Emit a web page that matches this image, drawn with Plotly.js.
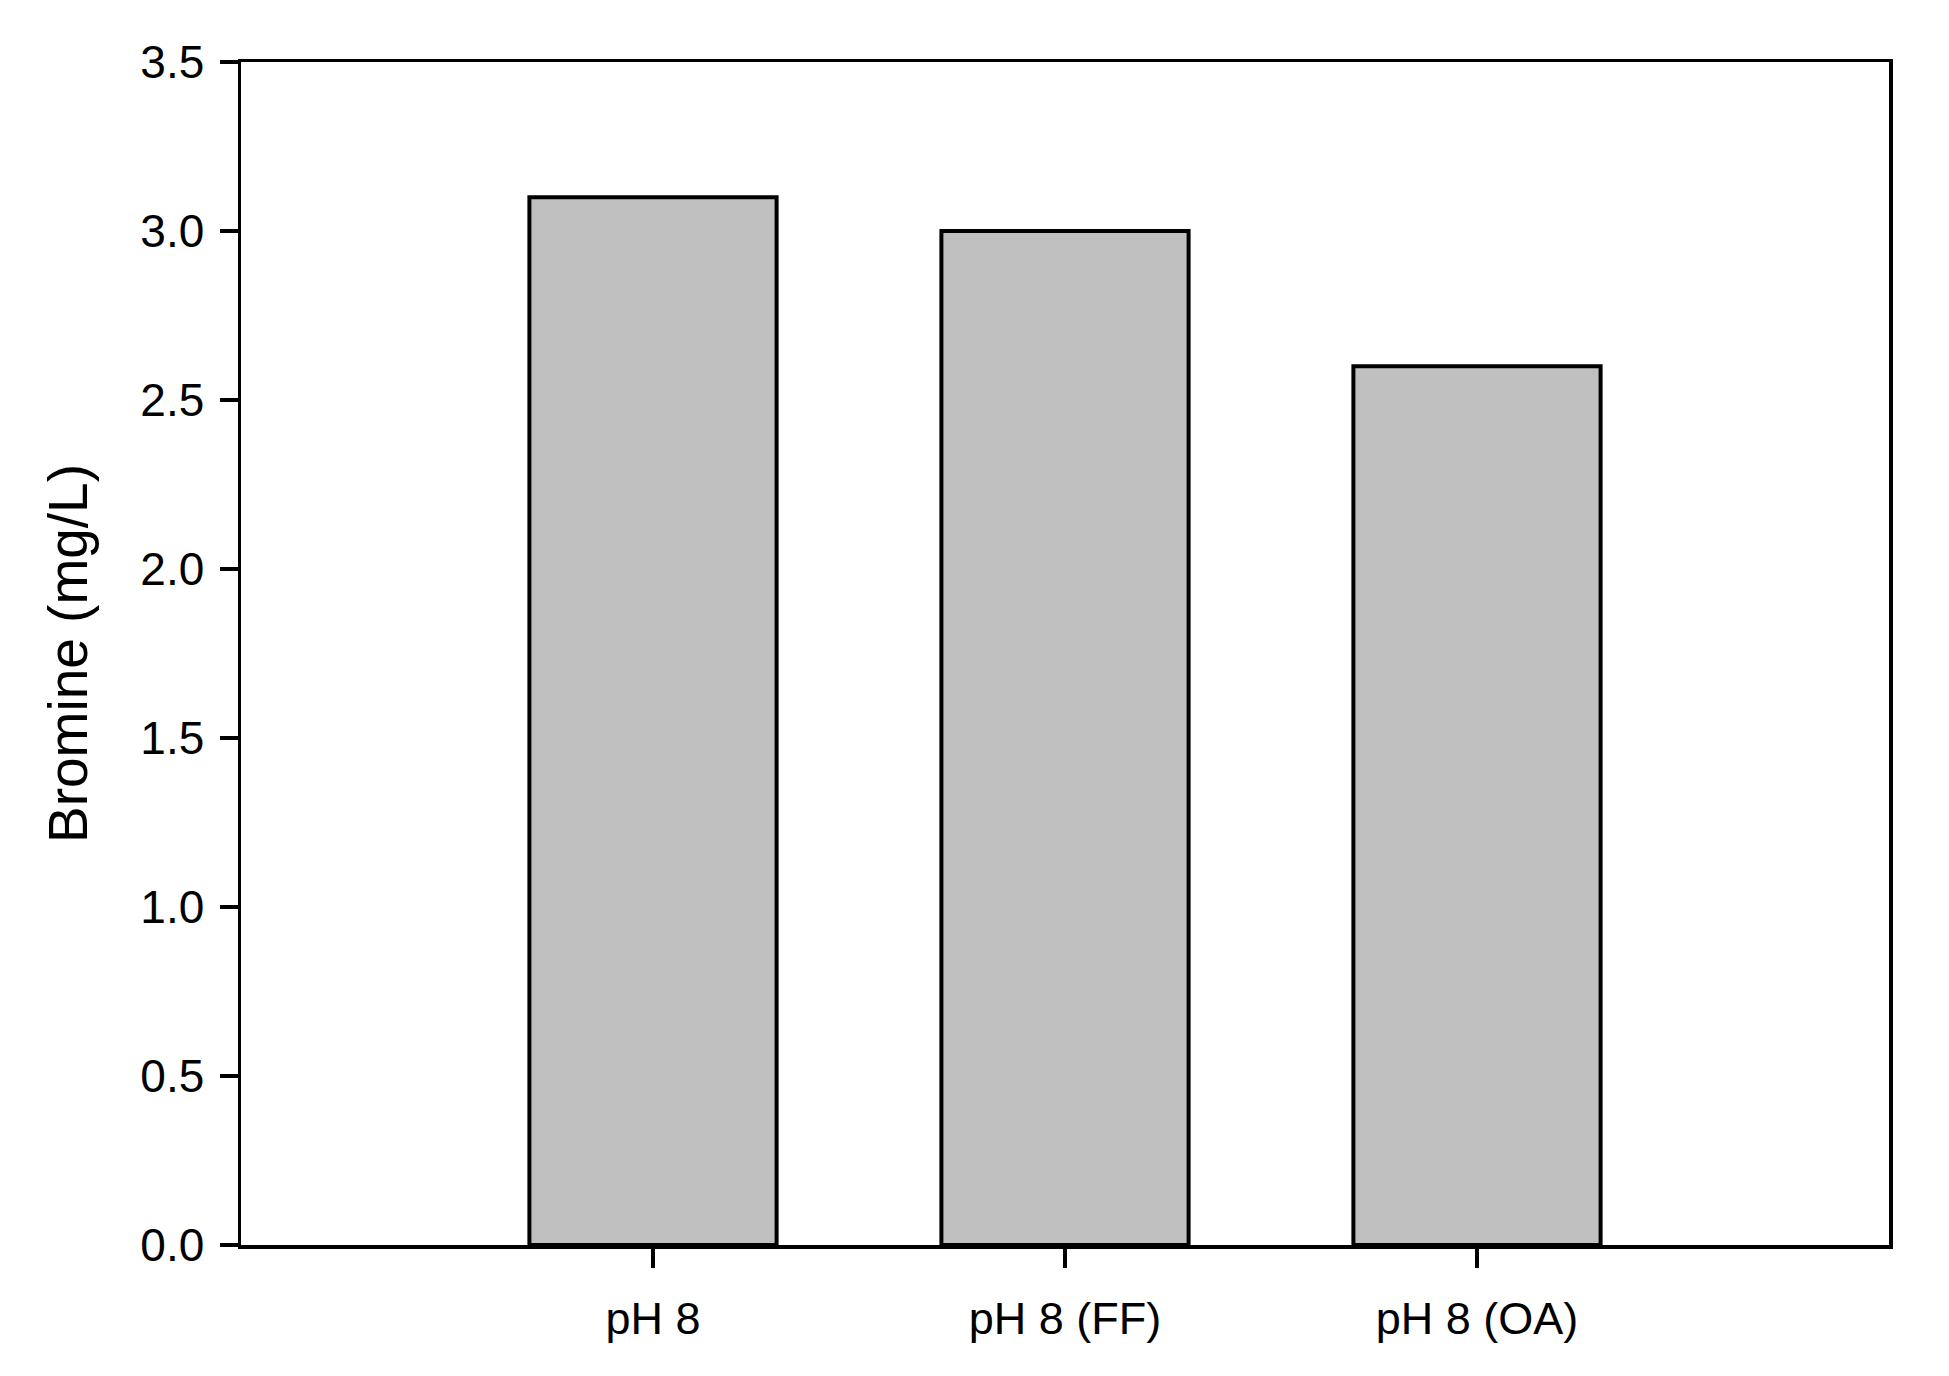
<!DOCTYPE html>
<html>
<head>
<meta charset="utf-8">
<script src="https://cdn.plot.ly/plotly-3.0.1.min.js"></script>
<style>
  html, body { margin: 0; padding: 0; background: #ffffff; }
  #chart { width: 1949px; height: 1376px; }
</style>
</head>
<body>
<div id="chart"></div>
<script>
const categories = ["pH 8", "pH 8 (FF)", "pH 8 (OA)"];
const bromineValues = [3.1, 3.0, 2.6];
const yTickValues = [0, 0.5, 1.0, 1.5, 2.0, 2.5, 3.0, 3.5];
const yTickLabels = ["0.0", "0.5", "1.0", "1.5", "2.0", "2.5", "3.0", "3.5"];
const yAxisTitle = "Bromine (mg/L)";

const fontFamily = "Liberation Sans, Arial, sans-serif";

const trace = {
  type: "bar",
  x: categories,
  y: bromineValues,
  width: 0.6,
  marker: { color: "#c0c0c0", line: { color: "#000000", width: 4 } },
  hoverinfo: "x+y"
};

const layout = {
  width: 1949,
  height: 1376,
  paper_bgcolor: "#ffffff",
  plot_bgcolor: "#ffffff",
  showlegend: false,
  margin: { l: 241, r: 60, t: 62, b: 131, pad: 0 },
  font: { family: fontFamily, color: "#000000", size: 46 },
  xaxis: {
    type: "category",
    range: [-1, 3],
    showline: true,
    linecolor: "#000000",
    linewidth: 3.5,
    mirror: true,
    ticks: "outside",
    ticklen: 19,
    tickwidth: 3.5,
    tickcolor: "#000000",
    showgrid: false,
    zeroline: false,
    tickfont: { family: fontFamily, size: 45, color: "#000000" },
    ticklabelstandoff: 12
  },
  yaxis: {
    range: [0, 3.5],
    tickvals: yTickValues,
    ticktext: yTickLabels,
    showline: true,
    linecolor: "#000000",
    linewidth: 3.5,
    mirror: true,
    ticks: "outside",
    ticklen: 18,
    tickwidth: 3.5,
    tickcolor: "#000000",
    showgrid: false,
    zeroline: false,
    tickfont: { family: fontFamily, size: 46, color: "#000000" },
    ticklabelstandoff: 6,
    title: { text: yAxisTitle, font: { family: fontFamily, size: 55, color: "#000000" }, standoff: 36 }
  }
};

Plotly.newPlot("chart", [trace], layout, { displayModeBar: false, staticPlot: true });
</script>
</body>
</html>
